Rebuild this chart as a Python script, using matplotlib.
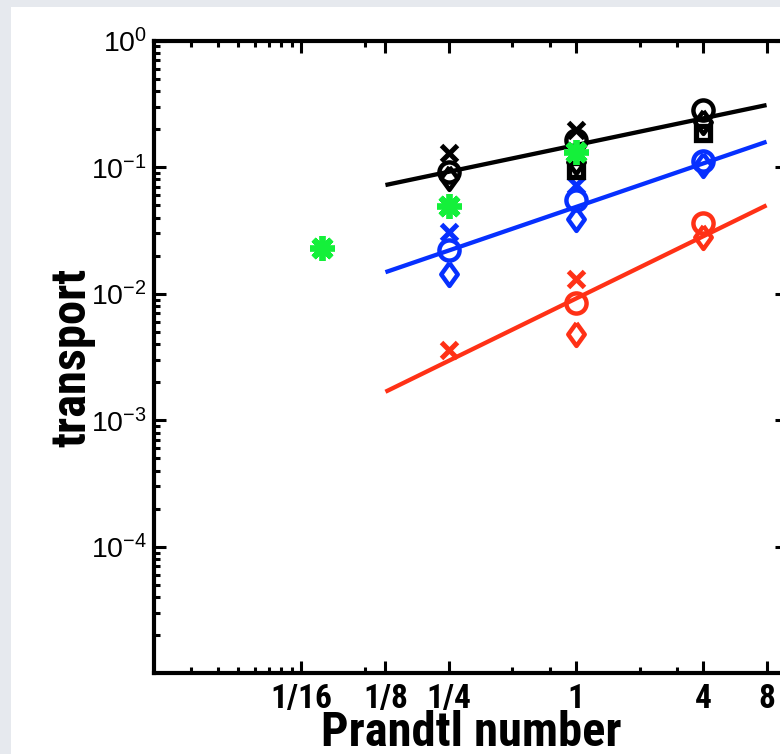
import matplotlib
matplotlib.use("Agg")
import matplotlib.pyplot as plt
from matplotlib import font_manager
from matplotlib.patches import Rectangle
import numpy

# Prandtl numbers and transport values, one list per symbol and colour
pr_fit = [1 / 8, 8]
black_fit = [0.0723, 0.31]
blue_fit = [0.0148, 0.159]
red_fit = [0.00168, 0.050]

black_x_pr = [1 / 4, 1]
black_x = [0.130, 0.197]
black_o_pr = [1 / 4, 1, 4]
black_o = [0.092, 0.164, 0.283]
black_d_pr = [1 / 4, 1, 4]
black_d = [0.082, 0.110, 0.228]
black_s_pr = [1, 4]
black_s = [0.095, 0.185]

blue_x_pr = [1 / 4, 1]
blue_x = [0.031, 0.072]
blue_o_pr = [1 / 4, 1, 4]
blue_o = [0.0222, 0.055, 0.112]
blue_d_pr = [1 / 4, 1, 4]
blue_d = [0.0143, 0.039, 0.104]

red_x_pr = [1 / 4, 1]
red_x = [0.0036, 0.0130]
red_o_pr = [1, 4]
red_o = [0.0085, 0.036]
red_d_pr = [1, 4]
red_d = [0.0048, 0.0283]

green_pr = [1 / 16, 1 / 4, 1]
green = [0.0231, 0.0493, 0.133]

xtick_vals = [0.05, 0.125, 0.25, 1, 4, 8]
xtick_labels = ["1/16", "1/8", "1/4", "1", "4", "8"]
xminor_vals = [0.015, 0.02, 0.025, 0.03, 0.035, 0.04, 0.045,
               0.1, 0.5, 0.75, 2, 3]
ytick_vals = [1e0, 1e-1, 1e-2, 1e-3, 1e-4]
ytick_labels = [r"$\mathregular{10^{0}}$", r"$\mathregular{10^{-1}}$",
                r"$\mathregular{10^{-2}}$", r"$\mathregular{10^{-3}}$",
                r"$\mathregular{10^{-4}}$"]

BLACK = "#000000"
BLUE = "#0630ff"
RED = "#ff3116"
GREEN = "#14f03a"

# a condensed bold face for the labels if one is installed
names = {f.name for f in font_manager.fontManager.ttflist}
narrow = None
for n in ["Liberation Sans Narrow", "Arial Narrow", "Roboto Condensed",
          "Open Sans Condensed", "Nimbus Sans Narrow"]:
    if n in names:
        narrow = n
        break
if narrow is None:
    label_font = dict(fontfamily="Liberation Sans", fontweight="bold")
    shrink = 0.84
else:
    label_font = dict(fontfamily=narrow, fontweight="bold")
    shrink = 1.0

fig = plt.figure(figsize=(7.8, 7.54), dpi=100)
fig.patch.set_facecolor("#e6e9ee")
fig.patches.append(Rectangle((11 / 780, 0), 1, 1 - 7 / 754,
                             transform=fig.transFigure,
                             facecolor="white", edgecolor="none", zorder=-5))

ax = fig.add_axes([154 / 780, 1 - 673.3 / 754, 633 / 780, 632.6 / 754])
ax.set_xscale("log")
ax.set_yscale("log")
ax.set_xlim(0.01, 10)
ax.set_ylim(1e-5, 1)
ax.patch.set_alpha(0)

# power-law fits
lw = 3.1
ax.plot(pr_fit, black_fit, color=BLACK, lw=lw, solid_capstyle="butt")
ax.plot(pr_fit, blue_fit, color=BLUE, lw=lw, solid_capstyle="butt")
ax.plot(pr_fit, red_fit, color=RED, lw=lw, solid_capstyle="butt")

diamond = [(0, 1), (0.72, 0), (0, -1), (-0.72, 0), (0, 1)]
sym = dict(ls="none", mfc="none")
for c, xp, xv, op, ov, dp, dv in [
        (BLACK, black_x_pr, black_x, black_o_pr, black_o, black_d_pr, black_d),
        (BLUE, blue_x_pr, blue_x, blue_o_pr, blue_o, blue_d_pr, blue_d),
        (RED, red_x_pr, red_x, red_o_pr, red_o, red_d_pr, red_d)]:
    ax.plot(xp, xv, marker="x", ms=11, mew=3.6, color=c, **sym)
    ax.plot(op, ov, marker="o", ms=14.5, mew=3.2, mec=c, **sym)
    ax.plot(dp, dv, marker=diamond, ms=16.5, mew=3.2, mec=c, **sym)
ax.plot(black_s_pr, black_s, marker="s", ms=10.5, mew=3.8, mec=BLACK, **sym)

ax.plot(green_pr, green, ls="none", marker=(8, 2, 0), ms=18, mew=4.2,
        color=GREEN)

# ticks on all four sides, pointing in
ax.set_xticks(xtick_vals)
ax.set_xticks(xminor_vals, minor=True)
ax.set_xticklabels(xtick_labels, fontsize=24 * shrink, **label_font)
ax.xaxis.set_minor_formatter(matplotlib.ticker.NullFormatter())
ax.set_yticks(ytick_vals)
ax.set_yticklabels(ytick_labels, fontfamily="Liberation Sans", fontsize=20.5)
ax.yaxis.set_minor_locator(matplotlib.ticker.LogLocator(
    base=10, subs=numpy.arange(2, 10), numticks=20))
ax.yaxis.set_minor_formatter(matplotlib.ticker.NullFormatter())
ax.tick_params(which="both", direction="in", top=True, right=True,
               color="black")
ax.tick_params(which="major", length=8.6, width=2.2)
ax.tick_params(which="minor", length=4.4, width=2.2)
ax.tick_params(axis="x", which="major", pad=7)
ax.tick_params(axis="y", which="major", pad=5)
for sp in ax.spines.values():
    sp.set_linewidth(3)

fig.text(72 / 780, 1 - 357 / 754, "transport", rotation=90,
         ha="center", va="center", fontsize=35 * shrink, **label_font)
fig.text(471 / 780, 1 - 746 / 754, "Prandtl number", ha="center",
         va="baseline", fontsize=35 * shrink, **label_font)

fig.savefig("out.png", dpi=100, facecolor=fig.get_facecolor())
